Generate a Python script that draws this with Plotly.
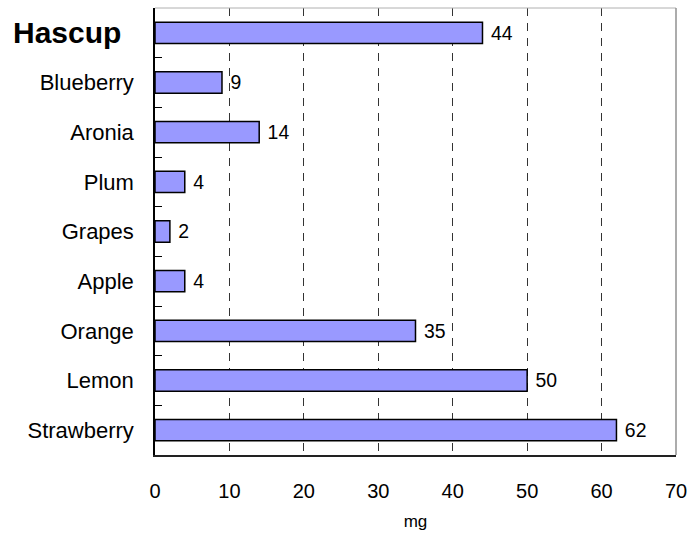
import plotly.graph_objects as go

categories = ["Hascup", "Blueberry", "Aronia", "Plum", "Grapes", "Apple", "Orange", "Lemon", "Strawberry"]
values = [44, 9, 14, 4, 2, 4, 35, 50, 62]
x_ticks = [0, 10, 20, 30, 40, 50, 60, 70]

tick_text = ["" if c == "Hascup" else c for c in categories]
FONT = "Liberation Sans, Arial"

fig = go.Figure(go.Bar(
    x=values, y=categories, orientation="h",
    marker=dict(color="#9999FF", line=dict(color="black", width=1.5)),
    width=0.43,
    texttemplate=" %{x}", textposition="outside",
    textfont=dict(family=FONT, size=20, color="black"),
    cliponaxis=False,
))

fig.update_layout(
    width=688, height=534,
    margin=dict(l=155, r=12, t=8, b=79, autoexpand=False),
    plot_bgcolor="white", paper_bgcolor="white",
    font=dict(family=FONT, color="black", size=20),
    showlegend=False,
    xaxis=dict(
        range=[0, 70], tickvals=x_ticks, ticks="",
        showgrid=True, gridcolor="#333", griddash="8px,7px", gridwidth=1.3,
        showline=True, linecolor="#222", linewidth=1.5,
        zeroline=False, ticklabelstandoff=17,
        tickfont=dict(size=20),
        title=dict(text="mg", font=dict(size=17), standoff=14),
    ),
    yaxis=dict(
        categoryorder="array", categoryarray=categories,
        tickvals=categories, ticktext=tick_text,
        autorange="reversed",
        ticks="inside", tickson="boundaries", ticklen=7, tickcolor="black",
        showline=True, linecolor="black", linewidth=1.5,
        showgrid=False, ticklabelstandoff=15,
        tickfont=dict(size=22),
    ),
    annotations=[dict(
        x=(123 - 155) / 521, xref="paper", xanchor="right",
        y="Hascup", yref="y", yanchor="middle",
        text="<b>Hascup</b>", showarrow=False,
        font=dict(size=30, color="black", family=FONT),
    )],
    shapes=[
        dict(type="line", xref="paper", yref="paper", x0=0, x1=1, y0=1, y1=1,
             line=dict(color="#b0b0b0", width=1)),
        dict(type="line", xref="paper", yref="paper", x0=1, x1=1, y0=0, y1=1,
             line=dict(color="#909090", width=1.5)),
    ],
)

fig.write_html(
    "out.html",
    config={"displayModeBar": False},
    post_script=(
        "document.documentElement.style.margin='0';"
        "document.documentElement.style.overflow='hidden';"
        "document.body.style.margin='0';"
        "document.body.style.overflow='hidden';"
    ),
)
